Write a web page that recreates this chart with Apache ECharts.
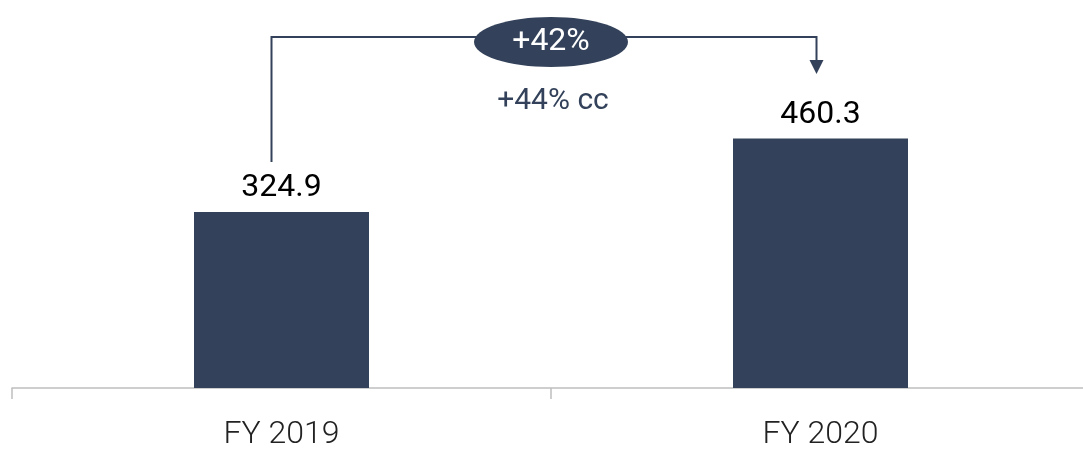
<!DOCTYPE html>
<html><head><meta charset="utf-8">
<script src="https://cdn.jsdelivr.net/npm/echarts@6/dist/echarts.min.js"></script>
<style>html,body{margin:0;padding:0;background:#fff}#c{width:1083px;height:451px}</style>
</head><body><div id="c"></div>
<script>
const categories = ['FY 2019', 'FY 2020'];
const values = [324.9, 460.3];
const growthLabel = '+42%';
const ccLabel = '+44% cc';

const navy = '#33425a';
const chart = echarts.init(document.getElementById('c'));
chart.setOption({
  animation: false,
  grid: { left: 12, top: 0, width: 1078, height: 388, outerBoundsMode: 'none', containLabel: false },
  xAxis: {
    type: 'category', data: categories,
    axisLine: { lineStyle: { color: '#bfbfbf', width: 1.5 } },
    axisTick: { show: true, length: 11, lineStyle: { color: '#bfbfbf', width: 1.5 } },
    axisLabel: { color: '#222', fontFamily: 'Roboto', fontWeight: 300, fontSize: 32, margin: 31 }
  },
  yAxis: { type: 'value', min: 0, max: 716, show: false },
  series: [{
    type: 'bar', data: values, barWidth: 175,
    itemStyle: { color: navy },
    label: { show: true, position: 'top', distance: 8, color: '#000', fontFamily: 'Roboto', fontSize: 32,
      formatter: p => p.value.toFixed(1) }
  }]
});

const p0 = chart.convertToPixel({ gridIndex: 0 }, [0, values[0]]);
const p1 = chart.convertToPixel({ gridIndex: 0 }, [1, values[1]]);
const lineY = 37;
const lx = p0[0] - 10, rx = p1[0] - 4;
const midX = (p0[0] + p1[0]) / 2;
chart.setOption({
  graphic: [
    { type: 'polyline', shape: { points: [[lx, p0[1] - 50], [lx, lineY], [rx, lineY], [rx, lineY + 25]] },
      style: { stroke: navy, lineWidth: 2, fill: null } },
    { type: 'polygon', shape: { points: [[rx - 7, lineY + 23], [rx + 7, lineY + 23], [rx, lineY + 37]] },
      style: { fill: navy } },
    { type: 'ellipse', shape: { cx: midX, cy: 42, rx: 77, ry: 25 }, style: { fill: navy } },
    { type: 'text', x: midX, y: 42, style: { text: growthLabel, fill: '#fff', font: '400 32px Roboto', align: 'center', verticalAlign: 'middle' } },
    { type: 'text', x: midX + 2, y: 101, style: { text: ccLabel, fill: navy, font: '400 30px Roboto', align: 'center', verticalAlign: 'middle' } }
  ]
});
</script></body></html>
